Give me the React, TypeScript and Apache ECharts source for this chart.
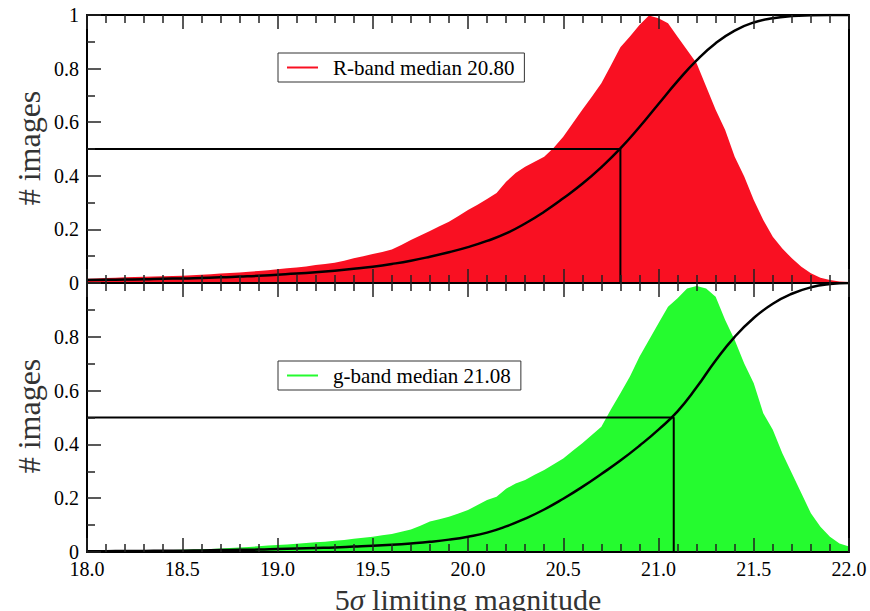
import React, { useEffect, useRef } from 'react';
import * as echarts from 'echarts';

// Histogram sample positions (0.05 mag spacing, 18.00 .. 22.00)
const HIST_START = 18.0;
const HIST_STEP = 0.05;
const rBandCounts = [
  0.016, 0.017, 0.019, 0.020, 0.021, 0.022, 0.023, 0.024, 0.025, 0.026,
  0.027, 0.029, 0.031, 0.033, 0.035, 0.037, 0.039, 0.042, 0.045, 0.048,
  0.051, 0.055, 0.058, 0.062, 0.067, 0.071, 0.076, 0.083, 0.092, 0.100,
  0.108, 0.116, 0.125, 0.142, 0.160, 0.177, 0.194, 0.212, 0.229, 0.250,
  0.272, 0.292, 0.313, 0.336, 0.378, 0.410, 0.434, 0.452, 0.471, 0.505,
  0.546, 0.596, 0.646, 0.695, 0.745, 0.812, 0.880, 0.920, 0.963, 0.998,
  0.988, 0.969, 0.919, 0.869, 0.820, 0.733, 0.646, 0.571, 0.471, 0.397,
  0.310, 0.235, 0.173, 0.129, 0.092, 0.061, 0.036, 0.020, 0.011, 0.006,
  0.004,
];
const gBandCounts = [
  0.004, 0.004, 0.005, 0.005, 0.005, 0.006, 0.006, 0.006, 0.007, 0.007,
  0.008, 0.009, 0.010, 0.011, 0.013, 0.015, 0.017, 0.019, 0.021, 0.024,
  0.026, 0.028, 0.031, 0.033, 0.036, 0.038, 0.042, 0.045, 0.049, 0.053,
  0.057, 0.062, 0.067, 0.075, 0.084, 0.098, 0.113, 0.122, 0.131, 0.143,
  0.156, 0.175, 0.193, 0.205, 0.235, 0.255, 0.268, 0.287, 0.305, 0.326,
  0.348, 0.376, 0.404, 0.435, 0.466, 0.530, 0.590, 0.652, 0.726, 0.788,
  0.850, 0.912, 0.943, 0.980, 0.989, 0.980, 0.949, 0.862, 0.788, 0.701,
  0.627, 0.516, 0.454, 0.367, 0.293, 0.218, 0.144, 0.094, 0.057, 0.032,
  0.020,
];

// Cumulative fraction curves (0.1 mag spacing, 18.0 .. 22.0)
const CDF_START = 18.0;
const CDF_STEP = 0.1;
const rBandCdf = [
  0.011, 0.012, 0.013, 0.014, 0.016, 0.017, 0.019, 0.021, 0.024, 0.027,
  0.031, 0.035, 0.040, 0.046, 0.053, 0.061, 0.071, 0.083, 0.098, 0.115,
  0.134, 0.157, 0.185, 0.222, 0.266, 0.316, 0.370, 0.432, 0.502, 0.582,
  0.668, 0.753, 0.831, 0.895, 0.942, 0.972, 0.988, 0.996, 0.999, 1.0,
  1.0,
];
const gBandCdf = [
  0.003, 0.003, 0.004, 0.004, 0.005, 0.005, 0.006, 0.007, 0.008, 0.009,
  0.011, 0.013, 0.015, 0.017, 0.020, 0.023, 0.027, 0.032, 0.038, 0.046,
  0.057, 0.072, 0.095, 0.124, 0.158, 0.198, 0.242, 0.290, 0.340, 0.395,
  0.455, 0.523, 0.612, 0.712, 0.800, 0.870, 0.923, 0.960, 0.984, 0.996,
  1.0,
];

const R_MEDIAN = 20.8;
const G_MEDIAN = 21.08;
const R_LABEL = 'R-band median 20.80';
const G_LABEL = 'g-band median 21.08';
const Y_TITLE = '# images';

const RED = '#f91022';
const GREEN = '#25fb2f';
const FONT = 'Liberation Serif, DejaVu Serif, serif';

const toPairs = (start: number, step: number, vals: number[]) =>
  vals.map((v, i) => [+(start + i * step).toFixed(3), v]);

export default function App() {
  const ref = useRef<HTMLDivElement>(null);

  useEffect(() => {
    if (!ref.current) return;
    const chart = echarts.init(ref.current, undefined, { renderer: 'svg' });

    const tickStyle = { color: '#222', width: 1.5 };
    const xAxis = (gridIndex: number, position: string, labels: boolean) => ({
      type: 'value',
      gridIndex,
      position,
      min: 18,
      max: 22,
      interval: 0.5,
      z: 5,
      axisLine: { show: true, onZero: false, lineStyle: { color: '#000', width: 2 } },
      axisTick: { show: true, inside: true, length: 14, lineStyle: tickStyle },
      minorTick: { show: true, splitNumber: 5, length: 8, lineStyle: tickStyle },
      splitLine: { show: false },
      minorSplitLine: { show: false },
      axisLabel: labels
        ? {
            show: true,
            margin: 7,
            fontFamily: FONT,
            fontSize: 20,
            color: '#000',
            formatter: (v: number) => v.toFixed(1),
          }
        : { show: false },
    });
    const yAxis = (gridIndex: number, position: string, labels: boolean, showTop: boolean) => ({
      type: 'value',
      gridIndex,
      position,
      min: 0,
      max: 1,
      interval: 0.2,
      z: 5,
      axisLine: { show: true, onZero: false, lineStyle: { color: '#000', width: 2 } },
      axisTick: { show: labels, inside: true, length: 14, lineStyle: tickStyle },
      minorTick: { show: labels, splitNumber: 2, length: 8, lineStyle: tickStyle },
      splitLine: { show: false },
      minorSplitLine: { show: false },
      axisLabel: labels
        ? {
            show: true,
            margin: 8,
            fontFamily: FONT,
            fontSize: 20,
            color: '#000',
            formatter: (v: number) =>
              v === 0 ? '0' : v === 1 ? (showTop ? '1' : '') : v.toFixed(1),
          }
        : { show: false },
    });

    const histSeries = (name: string, idx: number, vals: number[], color: string) => ({
      name,
      type: 'line',
      xAxisIndex: idx * 2,
      yAxisIndex: idx * 2,
      data: toPairs(HIST_START, HIST_STEP, vals),
      showSymbol: false,
      symbol: 'none',
      silent: true,
      z: 2,
      itemStyle: { color },
      lineStyle: { width: 0, color },
      areaStyle: { color, opacity: 1 },
    });
    const cdfSeries = (idx: number, vals: number[]) => ({
      type: 'line',
      xAxisIndex: idx * 2,
      yAxisIndex: idx * 2,
      data: toPairs(CDF_START, CDF_STEP, vals),
      smooth: 0.5,
      showSymbol: false,
      symbol: 'none',
      silent: true,
      z: 3,
      lineStyle: { color: '#000', width: 2.5 },
    });
    const medianSeries = (idx: number, m: number) => ({
      type: 'line',
      xAxisIndex: idx * 2,
      yAxisIndex: idx * 2,
      data: [
        [18, 0.5],
        [m, 0.5],
        [m, 0],
      ],
      showSymbol: false,
      symbol: 'none',
      silent: true,
      z: 3,
      lineStyle: { color: '#000', width: 2 },
    });

    const legendBase = {
      left: 278,
      orient: 'horizontal',
      selectedMode: false,
      icon: 'rect',
      itemWidth: 31,
      itemHeight: 2,
      padding: [4, 10, 4, 9],
      borderColor: '#333',
      borderWidth: 1,
      backgroundColor: '#fff',
      textStyle: { fontFamily: FONT, fontSize: 21, color: '#000', padding: [0, 0, 0, 10] },
    };

    chart.setOption({
      animation: false,
      backgroundColor: '#fff',
      grid: [
        { left: 87, top: 15, width: 762, height: 268 },
        { left: 87, top: 283, width: 762, height: 269 },
      ],
      xAxis: [
        xAxis(0, 'bottom', false),
        xAxis(0, 'top', false),
        xAxis(1, 'bottom', true),
        xAxis(1, 'top', false),
      ],
      yAxis: [
        yAxis(0, 'left', true, true),
        yAxis(0, 'right', false, true),
        yAxis(1, 'left', true, false),
        yAxis(1, 'right', false, false),
      ],
      legend: [
        { ...legendBase, top: 53, data: [{ name: R_LABEL, itemStyle: { color: RED } }] },
        { ...legendBase, top: 361, data: [{ name: G_LABEL, itemStyle: { color: GREEN } }] },
      ],
      series: [
        histSeries(R_LABEL, 0, rBandCounts, RED),
        cdfSeries(0, rBandCdf),
        medianSeries(0, R_MEDIAN),
        histSeries(G_LABEL, 1, gBandCounts, GREEN),
        cdfSeries(1, gBandCdf),
        medianSeries(1, G_MEDIAN),
      ],
      graphic: [
        {
          type: 'text',
          x: 29,
          y: 148,
          rotation: Math.PI / 2,
          style: {
            text: Y_TITLE,
            fontFamily: FONT,
            fontSize: 32,
            fill: '#333',
            align: 'center',
            verticalAlign: 'middle',
          },
        },
        {
          type: 'text',
          x: 29,
          y: 416,
          rotation: Math.PI / 2,
          style: {
            text: Y_TITLE,
            fontFamily: FONT,
            fontSize: 32,
            fill: '#333',
            align: 'center',
            verticalAlign: 'middle',
          },
        },
        {
          type: 'text',
          x: 468,
          y: 599,
          style: {
            text: '5{i|σ} limiting magnitude',
            fontFamily: FONT,
            fontSize: 30,
            fill: '#333',
            align: 'center',
            verticalAlign: 'middle',
            rich: { i: { fontFamily: FONT, fontSize: 30, fontStyle: 'italic', fill: '#333' } },
          },
        },
      ],
    });

    return () => chart.dispose();
  }, []);

  return (
    <div
      ref={ref}
      style={{ position: 'fixed', left: 0, top: 0, width: 870, height: 611 }}
    />
  );
}
